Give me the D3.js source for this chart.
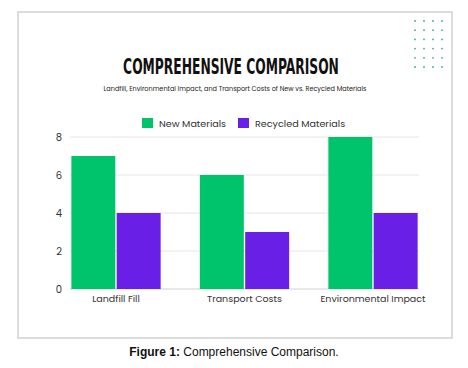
<!DOCTYPE html>
<html>
<head>
<meta charset="utf-8">
<script src="https://cdn.jsdelivr.net/npm/d3@7"></script>
<style>
  body { margin: 0; background: #fff; }
  text { font-family: Poppins, "Noto Sans", sans-serif; }
</style>
</head>
<body>
<div id="root"></div>
<script>
const categories = ["Landfill Fill", "Transport Costs", "Environmental Impact"];
const seriesNames = ["New Materials", "Recycled Materials"];
const newMaterials = [7, 6, 8];
const recycledMaterials = [4, 3, 4];
const yTicks = [0, 2, 4, 6, 8];
const colors = ["#00c46b", "#6a1fe6"];

const outerWidth = 468;
const outerHeight = 368;
const margin = { top: 137, right: 49, bottom: 79, left: 70 };
const width = outerWidth - margin.left - margin.right;
const height = outerHeight - margin.top - margin.bottom;

const svg = d3.select("#root")
    .append("svg")
    .attr("width", outerWidth)
    .attr("height", outerHeight);

// card
svg.append("rect")
    .attr("x", 18).attr("y", 12)
    .attr("width", 434).attr("height", 326)
    .attr("fill", "#fff")
    .attr("stroke", "#dcdcdc")
    .attr("stroke-width", 2);

// decorative dot grid
const dotCols = d3.range(4), dotRows = d3.range(6);
svg.append("g").selectAll("circle")
    .data(d3.cross(dotRows, dotCols))
    .join("circle")
    .attr("cx", d => 415 + d[1] * 9)
    .attr("cy", d => 21 + d[0] * 9.2)
    .attr("r", 0.9)
    .attr("fill", "#3aa89a");

// squeeze a text to a given width around its centre
function fitWidth(sel, cx, w) {
    const len = sel.node().getComputedTextLength();
    sel.attr("transform", `translate(${cx},0) scale(${w / len},1)`);
}

const title = svg.append("text")
    .attr("x", 0).attr("y", 74)
    .attr("text-anchor", "middle")
    .style("font-family", "'Liberation Sans Narrow', 'DejaVu Sans Condensed', sans-serif")
    .style("font-weight", "900")
    .style("font-size", "22px")
    .style("fill", "#111")
    .text("COMPREHENSIVE COMPARISON");
fitWidth(title, 231, 216);

const sub = svg.append("text")
    .attr("x", 0).attr("y", 91)
    .attr("text-anchor", "middle")
    .style("font-size", "7px")
    .style("fill", "#222")
    .text("Landfill, Environmental Impact, and Transport Costs of New vs. Recycled Materials");
fitWidth(sub, 235, 263);

// legend
const legendX = [142, 238];
const legend = svg.append("g").selectAll("g")
    .data(seriesNames)
    .join("g")
    .attr("transform", (d, i) => `translate(${legendX[i]}, 118)`);
legend.append("rect")
    .attr("width", 11).attr("height", 10)
    .attr("fill", (d, i) => colors[i]);
legend.append("text")
    .attr("x", 17).attr("y", 8.5)
    .style("font-size", "9.6px")
    .style("fill", "#333")
    .text(d => d);

const chart = svg.append("g")
    .attr("transform", `translate(${margin.left}, ${margin.top})`);

const x0 = d3.scaleBand().domain(categories).range([0, width]).paddingInner(0.284).paddingOuter(0);
const x1 = d3.scaleBand().domain(seriesNames).range([0, x0.bandwidth()]).padding(0.03);
const y = d3.scaleLinear().domain([0, 8]).range([height, 0]);

// grid
chart.append("g").selectAll("line")
    .data(yTicks)
    .join("line")
    .attr("x1", 0).attr("x2", width)
    .attr("y1", d => y(d)).attr("y2", d => y(d))
    .attr("stroke", d => d === 0 ? "#d0d0d0" : "#e6e6e6")
    .attr("stroke-width", 1);

const yAxis = chart.append("g")
    .call(d3.axisLeft(y).tickValues(yTicks).tickSize(0).tickPadding(8));
yAxis.select(".domain").remove();
yAxis.selectAll("text").style("font-size", "10px").style("fill", "#333")
    .style("font-family", "Poppins, 'Noto Sans', sans-serif");

const data = categories.map((c, i) => ({ cat: c, vals: [newMaterials[i], recycledMaterials[i]] }));
chart.append("g").selectAll("g")
    .data(data)
    .join("g")
    .attr("transform", d => `translate(${x0(d.cat)}, 0)`)
    .selectAll("rect")
    .data(d => d.vals.map((v, i) => ({ key: seriesNames[i], v, i })))
    .join("rect")
    .attr("x", d => x1(d.key))
    .attr("y", d => y(d.v))
    .attr("width", x1.bandwidth())
    .attr("height", d => height - y(d.v))
    .attr("fill", d => colors[d.i]);

const xAxis = chart.append("g")
    .attr("transform", `translate(0, ${height})`)
    .call(d3.axisBottom(x0).tickSize(0).tickPadding(6));
xAxis.select(".domain").remove();
xAxis.selectAll("text").style("font-size", "9.5px").style("fill", "#333")
    .style("font-family", "Poppins, 'Noto Sans', sans-serif");

// caption
const cap = svg.append("text")
    .attr("x", 234).attr("y", 356)
    .attr("text-anchor", "middle")
    .style("font-family", "Arial, 'Liberation Sans', sans-serif")
    .style("font-size", "12px")
    .style("fill", "#111");
cap.append("tspan").style("font-weight", "bold").text("Figure 1:");
cap.append("tspan").text(" Comprehensive Comparison.");
</script>
</body>
</html>
